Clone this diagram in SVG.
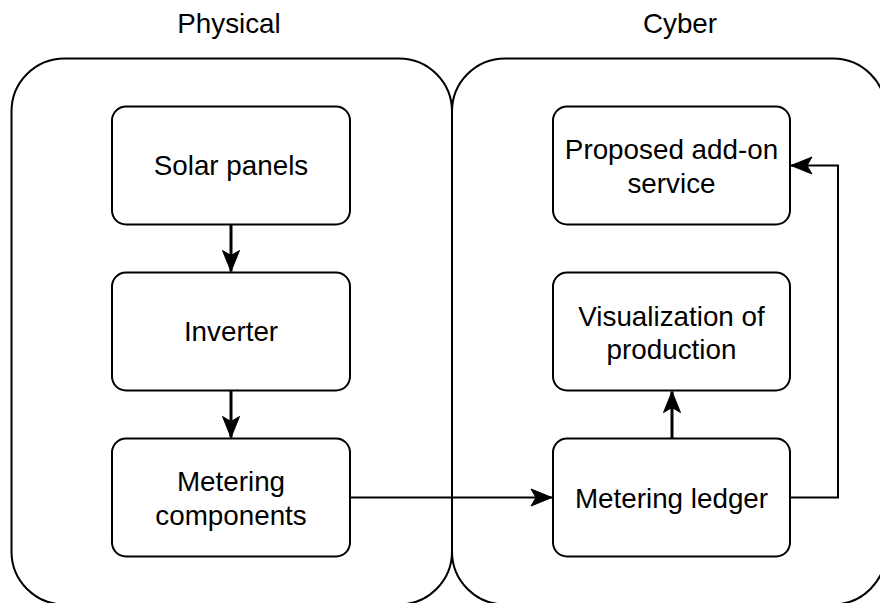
<svg xmlns="http://www.w3.org/2000/svg" width="880" height="603" viewBox="0 0 880 603">
<style>
.container{fill:none;stroke:#000;stroke-width:2}
.box{fill:#fff;stroke:#000;stroke-width:2}
.lbl{font-family:"Liberation Sans",Arial,sans-serif;font-size:27.8px;fill:#000;text-anchor:middle}
.edge{fill:none;stroke:#000;stroke-width:2}
.thick{stroke-width:3}
</style>
<defs>
<marker id="arr" markerUnits="userSpaceOnUse" markerWidth="24" markerHeight="22" viewBox="0 0 24 22" refX="22" refY="11" orient="auto">
<path d="M1,2.5 L22,11 L1,19.5 L6,11 z" fill="#000" stroke="#000" stroke-width="1"/>
</marker>
</defs>
<rect width="880" height="603" fill="#fff"/>
<g id="physical">
<rect class="container" x="11.5" y="58.5" width="440.5" height="546" rx="53" ry="53"/>
<text class="lbl" x="229" y="33">Physical</text>
</g>
<g id="cyber">
<rect class="container" x="452" y="58.5" width="434" height="546" rx="53" ry="53"/>
<text class="lbl" x="680" y="33">Cyber</text>
</g>
<g id="solar">
<rect class="box" x="112" y="106.5" width="238" height="118" rx="14"/>
<text class="lbl" x="231" y="175">Solar panels</text>
</g>
<g id="inverter">
<rect class="box" x="112" y="272.5" width="238" height="118" rx="14"/>
<text class="lbl" x="231" y="341">Inverter</text>
</g>
<g id="metering-components">
<rect class="box" x="112" y="438.5" width="238" height="118" rx="14"/>
<text class="lbl" x="231" y="491">Metering</text>
<text class="lbl" x="231" y="525">components</text>
</g>
<g id="addon">
<rect class="box" x="553" y="106.5" width="237" height="118" rx="14"/>
<text class="lbl" x="671.5" y="159">Proposed add-on</text>
<text class="lbl" x="671.5" y="193">service</text>
</g>
<g id="visualization">
<rect class="box" x="553" y="272.5" width="237" height="118" rx="14"/>
<text class="lbl" x="671.5" y="326">Visualization of</text>
<text class="lbl" x="671.5" y="359">production</text>
</g>
<g id="ledger">
<rect class="box" x="553" y="438.5" width="237" height="118" rx="14"/>
<text class="lbl" x="671.5" y="508">Metering ledger</text>
</g>
<g id="connectors">
<path class="edge thick" d="M231,224.5 L231,271.5" marker-end="url(#arr)"/>
<path class="edge thick" d="M231,390.5 L231,437.5" marker-end="url(#arr)"/>
<path class="edge" d="M350,497.5 L552,497.5" marker-end="url(#arr)"/>
<path class="edge thick" d="M672,438.5 L672,391.5" marker-end="url(#arr)"/>
<path class="edge" d="M790,497.5 L838,497.5 L838,165.5 L791,165.5" marker-end="url(#arr)"/>
</g>
</svg>
